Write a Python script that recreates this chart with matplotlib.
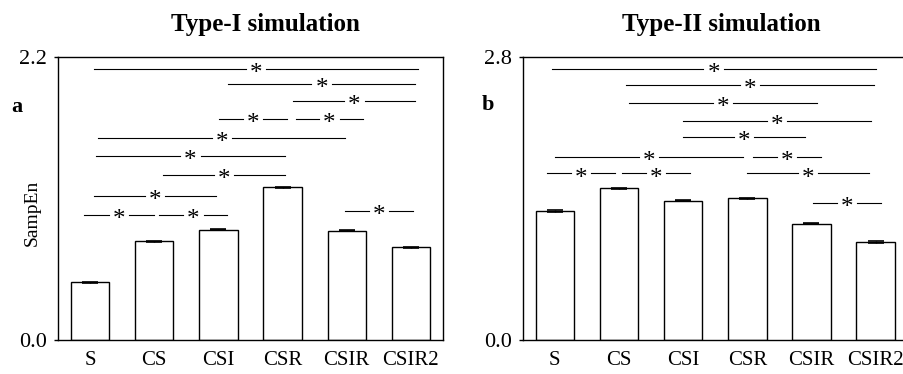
import matplotlib
matplotlib.use("Agg")
import matplotlib.pyplot as plt
import numpy as np

plt.rcParams['font.family'] = ['Liberation Serif', 'DejaVu Serif']

cats = ['S', 'CS', 'CSI', 'CSR', 'CSIR', 'CSIR2']
type1 = [0.448, 0.766, 0.859, 1.188, 0.849, 0.720]
type2 = [1.279, 1.500, 1.378, 1.401, 1.150, 0.969]
err1 = [0.006, 0.004, 0.005, 0.005, 0.004, 0.004]
err2 = [0.008, 0.005, 0.005, 0.005, 0.005, 0.006]

# significance lines: (start, end, height) in data units
sig1 = [(0.06, 5.11, 2.104), (2.15, 5.07, 1.988), (3.17, 5.07, 1.858),
        (2.01, 3.07, 1.721), (3.21, 4.25, 1.721), (0.13, 3.98, 1.571),
        (0.10, 3.03, 1.429), (1.14, 3.04, 1.286), (0.06, 1.96, 1.118),
        (-0.09, 0.99, 0.970), (1.08, 2.14, 0.970), (3.97, 5.03, 1.002)]
sig2 = [(-0.05, 5.00, 2.681), (1.11, 4.98, 2.522), (1.16, 4.08, 2.347),
        (2.00, 4.93, 2.171), (2.00, 3.90, 2.011), (0.01, 2.93, 1.813),
        (3.09, 4.15, 1.813), (-0.12, 0.94, 1.648), (1.05, 2.11, 1.648),
        (2.99, 4.90, 1.648), (4.02, 5.09, 1.352)]

fig = plt.figure(figsize=(9.04, 3.74), dpi=100)
ax1 = fig.add_axes([58/904, 34/374, 385/904, 283/374])
ax2 = fig.add_axes([522.7/904, 34/374, 385/904, 283/374])

def draw(ax, vals, errs, sig, ymax):
    x = np.arange(len(cats))
    ax.bar(x, vals, width=0.6, color='white', edgecolor='black', linewidth=1.0,
           yerr=errs, capsize=6, error_kw=dict(elinewidth=1.0, capthick=1.2, ecolor='black'))
    ax.set_xlim(-0.5, 5.5)
    ax.set_ylim(0, ymax)
    ax.set_yticks([0, ymax])
    ax.set_yticklabels(['0.0', '%.1f' % ymax])
    ax.set_xticks(x)
    ax.set_xticklabels(cats)
    ax.tick_params(axis='x', length=0, pad=8, labelsize=15)
    ax.tick_params(axis='y', length=3, pad=5, labelsize=16, width=1)
    for s in ax.spines.values():
        s.set_linewidth(1.0)
    gap = 0.16
    for x0, x1, y in sig:
        xm = (x0 + x1) / 2
        ax.plot([x0, xm - gap], [y, y], color='black', lw=0.8)
        ax.plot([xm + gap, x1], [y, y], color='black', lw=0.8)
        ax.annotate('*', (xm, y), xytext=(0, -8), textcoords='offset points',
                    ha='center', va='baseline', fontsize=18)

draw(ax1, type1, err1, sig1, 2.2)
draw(ax2, type2, err2, sig2, 2.8)

ax1.set_ylabel('SampEn', fontsize=14)
ax1.yaxis.set_label_coords(-0.045, 0.45)

fig.text(265/904, 1 - 25/374, 'Type-I simulation', ha='center', va='center',
         fontsize=18, fontweight='bold')
fig.text(721/904, 1 - 25/374, 'Type-II simulation', ha='center', va='center',
         fontsize=18, fontweight='bold')
fig.text(17/904, 1 - 107/374, 'a', ha='center', va='center', fontsize=16, fontweight='bold')
fig.text(488/904, 1 - 105/374, 'b', ha='center', va='center', fontsize=16, fontweight='bold')

fig.savefig('out.png', dpi=100)
